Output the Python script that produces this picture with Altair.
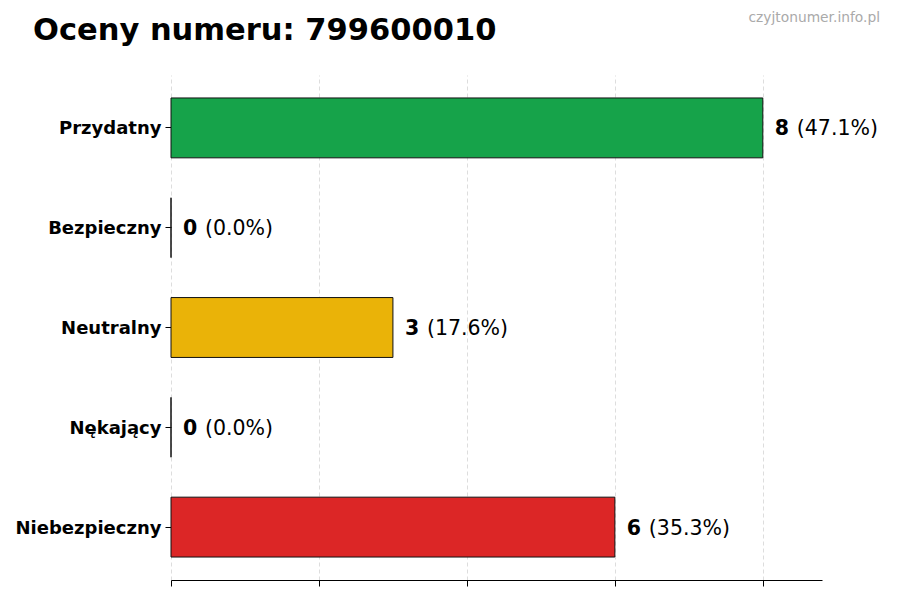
import altair as alt
import pandas as pd

categories = ["Przydatny", "Bezpieczny", "Neutralny", "Nękający", "Niebezpieczny"]
counts = [8, 0, 3, 0, 6]
percents = [47.1, 0.0, 17.6, 0.0, 35.3]
bar_colors = ["#16a34a", "#22c55e", "#eab308", "#f97316", "#dc2626"]
x_ticks = [0, 2, 4, 6, 8]
title_text = "Oceny numeru: 799600010"
watermark = "czyjtonumer.info.pl"

df = pd.DataFrame({
    "cat": categories,
    "count": counts,
    "pct": [f"({p:.1f}%)" for p in percents],
    "num": [str(c) for c in counts],
})

FONT = "DejaVu Sans"

y_enc = alt.Y("cat:N", sort=categories,
              scale=alt.Scale(paddingInner=0.4, paddingOuter=0.23),
              axis=alt.Axis(title=None, labelFontWeight="bold", labelFontSize=18,
                            labelColor="black", labelFont=FONT, domain=False,
                            tickSize=6, tickColor="black", labelPadding=4, grid=False,
                            labelOffset=1.5))
x_scale = alt.Scale(domain=[0, 8.8], nice=False, zero=True)

bars = alt.Chart(df).mark_bar(stroke="#111111", strokeWidth=1, opacity=1).encode(
    x=alt.X("count:Q", scale=x_scale,
            axis=alt.Axis(values=x_ticks, labels=False, title=None, grid=True,
                          gridDash=[4, 3], gridColor="#d4d4d4", gridWidth=0.8,
                          tickSize=6, tickColor="black", domainColor="black",
                          domainWidth=1)),
    y=y_enc,
    color=alt.Color("cat:N", scale=alt.Scale(domain=categories, range=bar_colors), legend=None),
)

nums = alt.Chart(df).mark_text(align="left", baseline="middle", dx=12, dy=1.5, fontSize=20.5,
                               fontWeight="bold", font=FONT, color="black").encode(
    x="count:Q", y=alt.Y("cat:N", sort=categories), text="num:N")

pcts = alt.Chart(df).mark_text(align="left", baseline="middle", dx=34, dy=1.5, fontSize=20.5,
                               font=FONT, color="black").encode(
    x="count:Q", y=alt.Y("cat:N", sort=categories), text="pct:N")

wm = alt.Chart(pd.DataFrame({"t": [watermark]})).mark_text(
    align="right", baseline="alphabetic", fontSize=13.8, font=FONT, color="#aaaaaa").encode(
    x=alt.value(709), y=alt.value(-53), text="t:N")

ttl = alt.Chart(pd.DataFrame({"t": [title_text]})).mark_text(
    align="left", baseline="alphabetic", fontSize=30.5, font=FONT, fontWeight="bold",
    color="black").encode(
    x=alt.value(-138), y=alt.value(-35), text="t:N")

chart = alt.layer(bars, nums, pcts, wm, ttl).properties(
    width=651, height=505,
    autosize=alt.AutoSizeParams(type="none"),
    padding={"left": 163, "top": 67, "right": 60, "bottom": 12},
).configure_view(stroke=None)

chart.save("out.html", embed_options={"renderer": "svg", "actions": False})
